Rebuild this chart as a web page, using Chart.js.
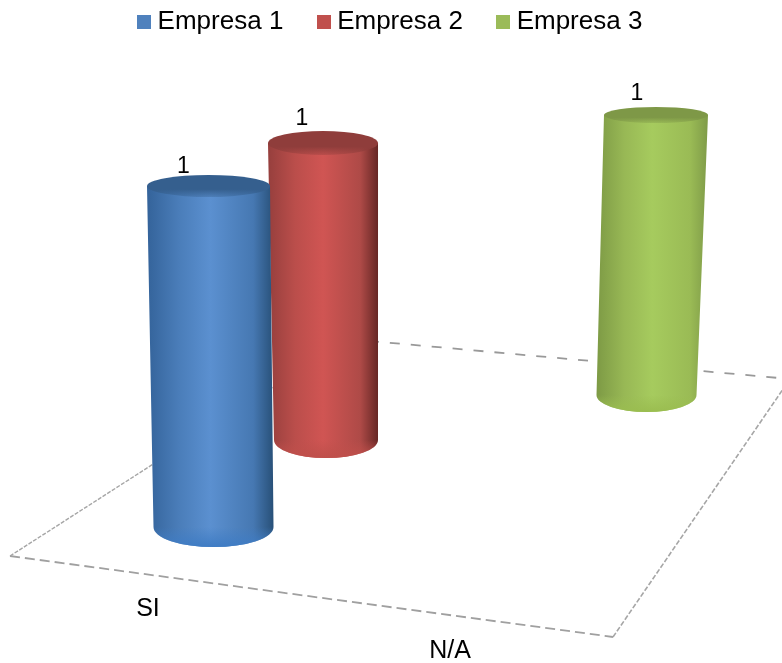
<!DOCTYPE html>
<html>
<head>
<meta charset="utf-8">
<style>
  html, body { margin: 0; padding: 0; background: #fff; }
  canvas { display: block; }
</style>
<script src="https://cdn.jsdelivr.net/npm/chart.js@4"></script>
</head>
<body>
<canvas id="chart" width="782" height="663"></canvas>
<script>
// Survey answers per company
const categories = ['SI', 'N/A'];
const empresa1 = [1, null];
const empresa2 = [1, null];
const empresa3 = [null, 1];
const seriesNames = ['Empresa 1', 'Empresa 2', 'Empresa 3'];

const HEIGHT = 663;
const FONT = '"Liberation Sans", Arial, sans-serif';
const CATEGORY_SPACING = 420;          // px between two categories on a series' x axis

// Each series stands at its own depth on the floor, so each has its own axes.
const depthViews = [
  { floorX: 213.5, floorY: 527, topY: 186, width: 120, lean: -5,  taper: 1.025, topRy: 11, baseRy: 20, labelDx: -25, labelDy: -19 },
  { floorX: 326,   floorY: 440, topY: 143, width: 104, lean: -3,  taper: 1.058, topRy: 12, baseRy: 18, labelDx: -21, labelDy: -24 },
  { floorX: 646.5, floorY: 395, topY: 115, width: 100, lean: 9.5, taper: 1.04,  topRy: 8,  baseRy: 17, labelDx: -19, labelDy: -21 }
];
const categoryOfSeries = [0, 0, 1];

const swatches = ['#4f81bd', '#c0504d', '#9bbb59'];
const stopOffsets = [0, 0.25, 0.5, 0.84, 1];
const bodyStops = [
  ['#34639a', '#4a7db9', '#5b90d0', '#4678b2', '#285078'],
  ['#963f3d', '#bb4e4b', '#d05553', '#ae4a47', '#662725'],
  ['#7d9a45', '#98b855', '#a6cb5e', '#9abb55', '#7f9b48']
];
const capColors = ['#355f8e', '#8f3d3b', '#7e9847'];
const rimColors = ['#3f7cc4', '#bf4f4b', '#9abd50'];

// Ground plane outline, drawn behind the columns
const floorEdges = [
  { from: [10, 556],  to: [613, 637], dash: [10, 5], color: '#a0a0a0', width: 1.8 },
  { from: [613, 637], to: [790, 379], dash: [5, 2], color: '#a6a6a6', width: 1.6 },
  { from: [10, 556],  to: [348, 339], dash: [4, 1.5], color: '#a6a6a6', width: 1.4 },
  { from: [348, 339], to: [790, 379], dash: [10, 11], color: '#999999', width: 1.8 }
];
const categoryLabelAnchors = [[148, 609], [450, 651]];

const legendSwatch = color => {
  const c = document.createElement('canvas');
  c.width = 14; c.height = 14;
  const g = c.getContext('2d');
  g.fillStyle = color;
  g.fillRect(0, 0, 14, 14);
  return c;
};

const xLimits = (view, category) => scale => {
  scale.min = category - view.floorX / CATEGORY_SPACING;
  scale.max = scale.min + scale.width / CATEGORY_SPACING;
};

const yLimits = view => scale => {
  const unit = view.floorY - view.topY;
  scale.min = -(HEIGHT - view.floorY) / unit;
  scale.max = scale.min + scale.height / unit;
};

const hiddenAxes = {};
depthViews.forEach((view, i) => {
  hiddenAxes['x' + i] = {
    type: 'linear', display: false, bounds: 'data', offset: false,
    ticks: { stepSize: 1, includeBounds: false },
    afterDataLimits: xLimits(view, categoryOfSeries[i])
  };
  hiddenAxes['y' + i] = {
    type: 'linear', display: false, bounds: 'data', afterDataLimits: yLimits(view)
  };
});

function drawCylinder(ctx, el, view, i) {
  const xb = el.x, yb = el.base, rb = el.width / 2;
  const xt = el.x + view.lean, yt = el.y, rt = rb * view.taper;
  const left = Math.min(xb - rb, xt - rt), right = Math.max(xb + rb, xt + rt);

  const body = ctx.createLinearGradient(left, 0, right, 0);
  stopOffsets.forEach((p, k) => body.addColorStop(p, bodyStops[i][k]));

  ctx.beginPath();
  ctx.moveTo(xt - rt, yt);
  ctx.lineTo(xb - rb, yb);
  ctx.ellipse(xb, yb, rb, view.baseRy, 0, Math.PI, 0, true);
  ctx.lineTo(xt + rt, yt);
  ctx.closePath();
  ctx.fillStyle = body;
  ctx.fill();

  // Lighter rim where the column meets the floor
  const rim = ctx.createLinearGradient(0, yb, 0, yb + view.baseRy);
  rim.addColorStop(0, rimColors[i] + '00');
  rim.addColorStop(1, rimColors[i]);
  ctx.beginPath();
  ctx.moveTo(xb - rb, yb);
  ctx.ellipse(xb, yb, rb, view.baseRy, 0, Math.PI, 0, true);
  ctx.closePath();
  ctx.fillStyle = rim;
  ctx.fill();

  // Top cap, fading into the body along its front edge
  const cap = ctx.createLinearGradient(0, yt - view.topRy, 0, yt + view.topRy);
  cap.addColorStop(0, capColors[i]);
  cap.addColorStop(0.65, capColors[i]);
  cap.addColorStop(1, capColors[i] + '55');
  ctx.beginPath();
  ctx.ellipse(xt, yt, rt, view.topRy, 0, 0, Math.PI * 2);
  ctx.fillStyle = cap;
  ctx.fill();
}

const cylinderPlugin = {
  id: 'cylinders',
  beforeDatasetsDraw(chart) {
    const ctx = chart.ctx;
    ctx.save();
    floorEdges.forEach(edge => {
      ctx.beginPath();
      ctx.setLineDash(edge.dash);
      ctx.lineWidth = edge.width;
      ctx.strokeStyle = edge.color;
      ctx.moveTo(edge.from[0], edge.from[1]);
      ctx.lineTo(edge.to[0], edge.to[1]);
      ctx.stroke();
    });
    ctx.restore();
  },
  beforeDatasetDraw(chart, args) {
    const ctx = chart.ctx;
    const i = args.index;
    ctx.save();
    args.meta.data.forEach((el, k) => {
      if (chart.data.datasets[i].data[k].y === null) return;
      drawCylinder(ctx, el, depthViews[i], i);
    });
    ctx.restore();
    return false;
  },
  afterDatasetsDraw(chart) {
    const ctx = chart.ctx;
    ctx.save();
    ctx.fillStyle = '#000';
    ctx.textAlign = 'center';
    ctx.textBaseline = 'middle';
    ctx.font = '23px ' + FONT;
    chart.data.datasets.forEach((ds, i) => {
      const view = depthViews[i];
      chart.getDatasetMeta(i).data.forEach((el, k) => {
        const v = ds.data[k].y;
        if (v === null) return;
        ctx.fillText(String(v), el.x + view.lean + view.labelDx, el.y + view.labelDy);
      });
    });
    ctx.font = '25px ' + FONT;
    categories.forEach((name, k) => {
      ctx.fillText(name, categoryLabelAnchors[k][0], categoryLabelAnchors[k][1]);
    });
    ctx.restore();
  }
};

const pointsOf = values => values.map((y, x) => ({ x, y }));

new Chart(document.getElementById('chart'), {
  type: 'bar',
  data: {
    datasets: [empresa1, empresa2, empresa3].map((values, i) => ({
      label: seriesNames[i],
      data: pointsOf(values),
      xAxisID: 'x' + i,
      yAxisID: 'y' + i,
      backgroundColor: swatches[i],
      grouped: false,
      barPercentage: 1,
      maxBarThickness: depthViews[i].width
    }))
  },
  options: {
    responsive: false,
    animation: false,
    layout: { padding: { top: -30.8, right: -4 } },
    scales: hiddenAxes,
    plugins: {
      tooltip: { enabled: false },
      legend: {
        position: 'top',
        labels: {
          usePointStyle: true,
          pointStyleWidth: 1,
          padding: 39.8,
          color: '#000',
          font: { family: FONT, size: 26 },
          generateLabels: chart => chart.data.datasets.map((ds, i) => ({
            text: ds.label,
            fontColor: '#000',
            pointStyle: legendSwatch(swatches[i]),
            datasetIndex: i,
            lineWidth: 0,
            fillStyle: swatches[i],
            strokeStyle: swatches[i]
          }))
        }
      }
    }
  },
  plugins: [cylinderPlugin]
});
</script>
</body>
</html>
